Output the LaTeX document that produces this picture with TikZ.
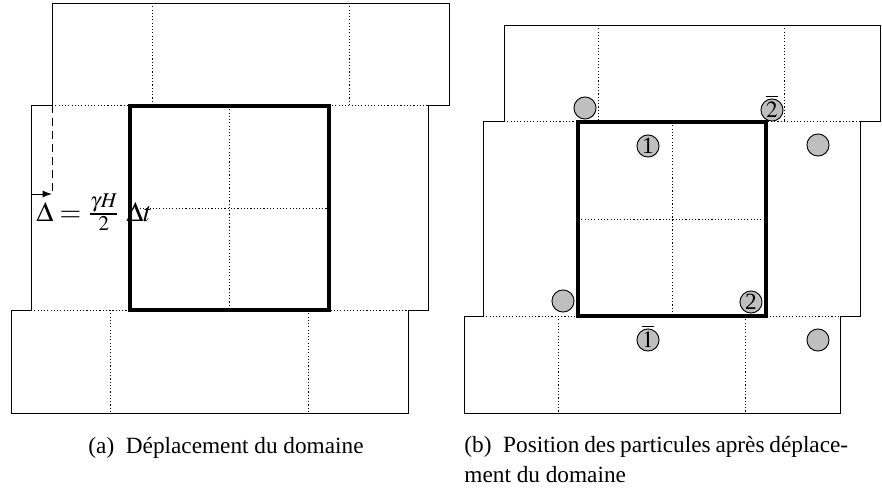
\documentclass[tikz,border=0pt]{standalone}
\usepackage{mathptmx}
\usepackage[no-math]{fontspec}
\setmainfont{Liberation Serif}

\begin{document}
\begin{tikzpicture}[x=0.43pt,y=-0.43pt,
  rim/.style={line width=0.4pt},
  cell/.style={line width=0.4pt, dash pattern=on 0.5pt off 0.9pt},
  box/.style={line width=1.7pt},
  part/.style={circle, draw, line width=0.4pt, fill=black!25, minimum size=9.5pt, inner sep=0pt},
  digit/.style={inner sep=0pt, anchor=base}]
\useasboundingbox (0,0) rectangle (882,492);

% (a) domain and its shifted images
\draw[rim] (52,3) -- (449,3) -- (449,105) -- (428,105) -- (428,310) -- (408,310) -- (408,413)
  -- (11,413) -- (11,310) -- (31,310) -- (31,105) -- (52,105) -- cycle;
\draw[cell] (52,105) -- (428,105);
\draw[cell] (31,310) -- (408,310);
\foreach \x in {152,349} \draw[cell] (\x,3) -- (\x,105);
\foreach \x in {110,308} \draw[cell] (\x,310) -- (\x,413);
\draw[cell] (229,106) -- (229,310);
\draw[cell] (130,208) -- (329,208);
\draw[box] (130,106) rectangle (329,310);

\coordinate (s0) at (52,105);
\coordinate (s1) at (52,194);
\coordinate (s2) at (31,194);
\draw[line width=0.4pt, dash pattern=on 3.4pt off 2.2pt] (s0) -- (s1);
\draw[line width=0.4pt, -latex] (s2) -- (s1);
\node[anchor=base west, inner sep=0pt, font=\fontsize{12}{14}\selectfont] (shift) at (36,221)
  {$\Delta = \frac{\gamma H}{2}\;\Delta t$};

% (b) particles after the shift
\draw[rim] (504,25) -- (880,25) -- (880,121) -- (860,121) -- (860,316) -- (840,316) -- (840,413)
  -- (464,413) -- (464,316) -- (483,316) -- (483,121) -- (504,121) -- cycle;
\draw[cell] (504,121) -- (860,121);
\draw[cell] (483,316) -- (840,316);
\foreach \x in {598,784} \draw[cell] (\x,25) -- (\x,121);
\foreach \x in {558,745} \draw[cell] (\x,316) -- (\x,413);
\draw[cell] (672,122) -- (672,316);
\draw[cell] (578,219) -- (766,219);
\draw[box] (578,122) rectangle (766,316);

\node[part] (p1) at (585,108) {};
\node[part] (p2b) at (772,110) {};
\node[part] (p3) at (648,146) {};
\node[part] (p4) at (818,145) {};
\node[part] (p5) at (563,301) {};
\node[part] (p6) at (751,302) {};
\node[part] (p7) at (648,340) {};
\node[part] (p8) at (818,340) {};
\node[digit] (d2b) at ([yshift=-3.3pt]p2b.center) {$\overline{\rule{0pt}{7.6pt}2}$};
\node[digit] (d1) at ([yshift=-3.3pt]p3.center) {1};
\node[digit] (d2) at ([yshift=-3.3pt]p6.center) {2};
\node[digit] (d1b) at ([yshift=-3.3pt]p7.center) {$\overline{\rule{0pt}{7.6pt}1}$};

% captions
\node[anchor=base, inner sep=0pt] (capa) at (226,453) {(a)\hspace{0.5em}Déplacement du domaine};
\node[anchor=base west, inner sep=0pt, text width=165pt, align=justify,
  font=\fontsize{10}{13}\selectfont] (capb) at (464,452)
  {(b)\hspace{0.5em}Position des particules après déplace-\linebreak ment du domaine};
\end{tikzpicture}
\end{document}
